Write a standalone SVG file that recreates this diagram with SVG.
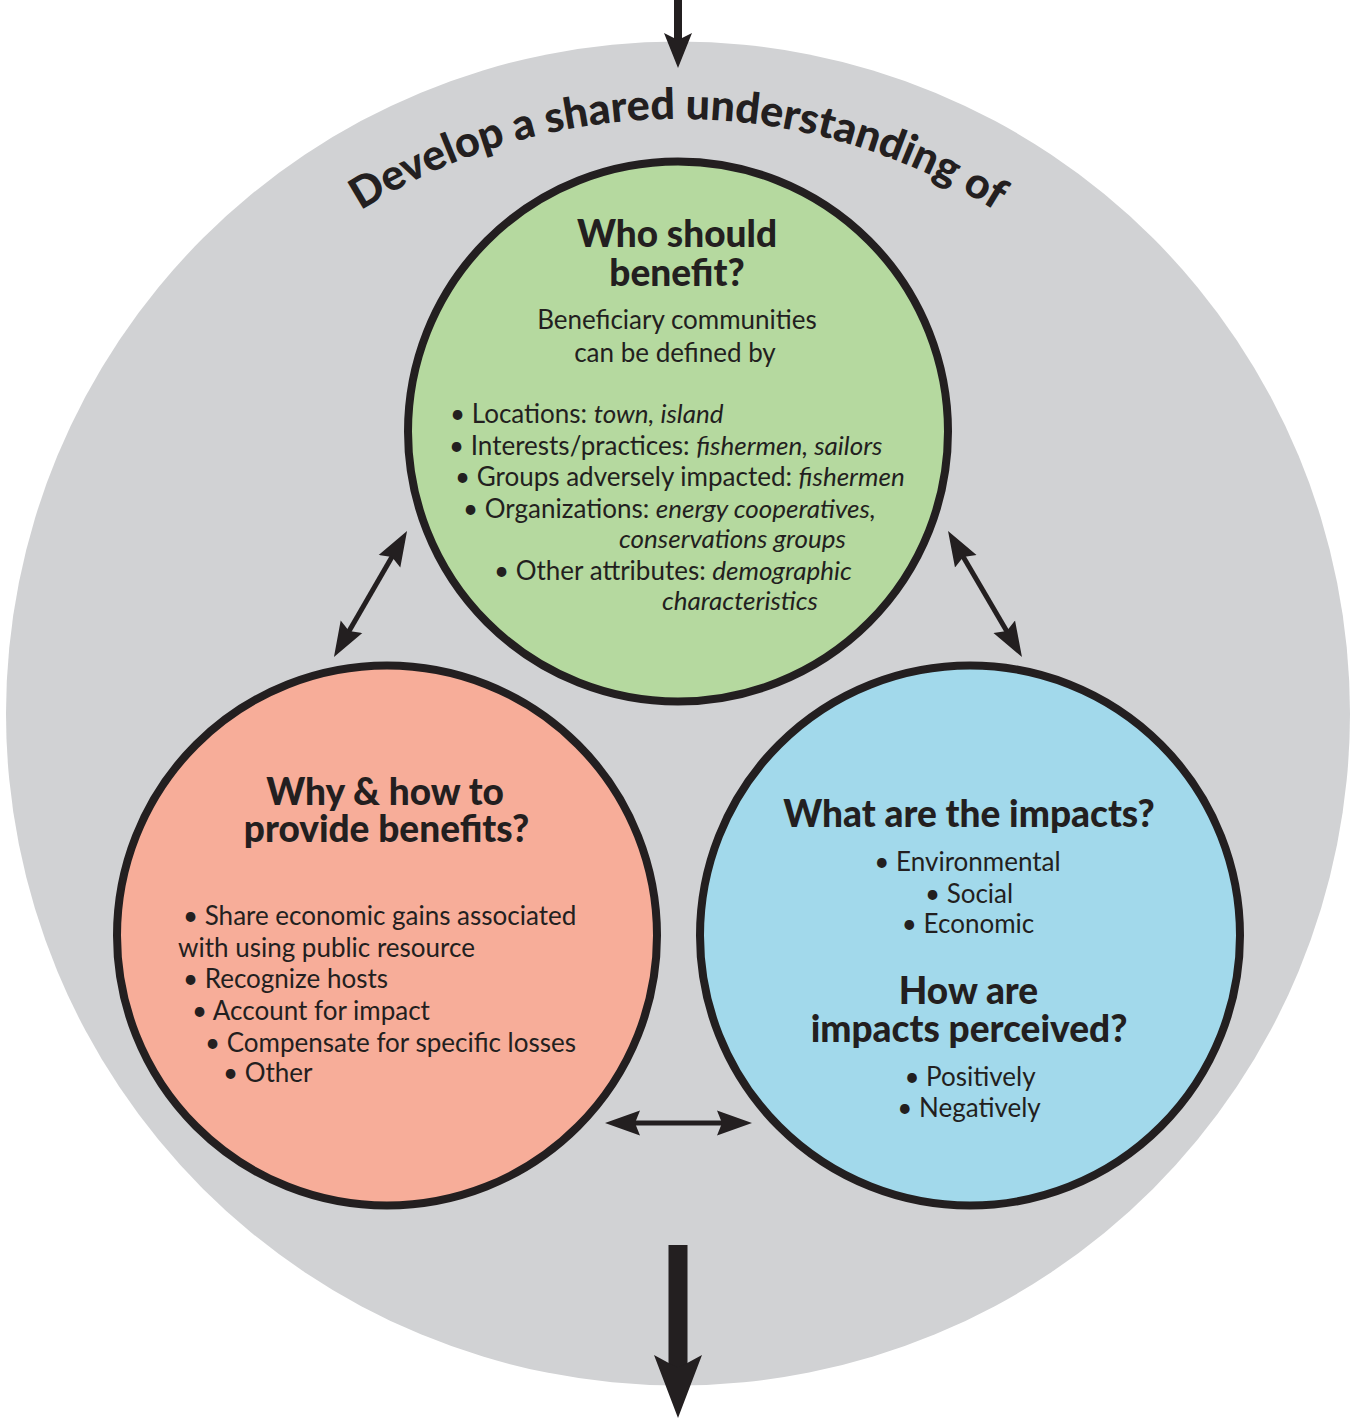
<svg xmlns="http://www.w3.org/2000/svg" width="1355" height="1420" viewBox="0 0 1355 1420">
<defs>
<style>
.title{font-family:"Lato Black",Lato,"Noto Sans",sans-serif;font-weight:900;font-size:37px;fill:#231f20;text-anchor:middle}
.body{font-family:Lato,"Noto Sans",sans-serif;font-weight:400;font-size:26px;fill:#231f20}
.mid{text-anchor:middle}
.it{font-style:italic}
.arc{font-family:"Lato Black",Lato,"Noto Sans",sans-serif;font-weight:900;font-size:43px;fill:#231f20}
.node{stroke:#231f20;stroke-width:8}
.conn{stroke:#231f20;stroke-width:5;fill:none}
</style>
<marker id="ah" viewBox="0 -13 36 26" refX="10" refY="0" markerWidth="36" markerHeight="26" markerUnits="userSpaceOnUse" orient="auto-start-reverse">
<path d="M35,0 L0,-12.5 L5,0 L0,12.5 Z" fill="#231f20"/>
</marker>
<path id="arcPath" d="M162.7,416.5 A595,595 0 0 1 1193.3,416.5"/>
</defs>
<rect width="1355" height="1420" fill="#ffffff"/>
<g id="outer">
<circle cx="678" cy="713.5" r="672" fill="#d1d2d4"/>
<text class="arc"><textPath href="#arcPath" startOffset="50%" text-anchor="middle">Develop a shared understanding of</textPath></text>
</g>
<g id="connectors">
<rect x="674" y="0" width="8" height="40" fill="#231f20"/>
<polygon points="664,33 678,40 692,33 678,68" fill="#231f20"/>
<rect x="668.5" y="1245" width="19" height="124" fill="#231f20"/>
<polygon points="654,1355 678,1368 702,1355 678,1418" fill="#231f20"/>
<line class="conn" x1="346.5" y1="635.4" x2="394.5" y2="552.6" marker-start="url(#ah)" marker-end="url(#ah)"/>
<line class="conn" x1="960.7" y1="552.6" x2="1009.3" y2="635.4" marker-start="url(#ah)" marker-end="url(#ah)"/>
<line class="conn" x1="630" y1="1123" x2="727" y2="1123" marker-start="url(#ah)" marker-end="url(#ah)"/>
</g>
<g id="who">
<circle class="node" cx="678" cy="431.5" r="270" fill="#b5d99f"/>
<text class="title" x="677" y="247">Who should</text>
<text class="title" x="677" y="286">benefit?</text>
<text class="body mid" x="677" y="329">Beneficiary communities</text>
<text class="body mid" x="675" y="362">can be defined by</text>
<text class="body" x="450" y="423">• Locations: <tspan class="it">town, island</tspan></text>
<text class="body" x="449" y="455">• Interests/practices: <tspan class="it">fishermen, sailors</tspan></text>
<text class="body" x="455" y="486">• Groups adversely impacted: <tspan class="it">fishermen</tspan></text>
<text class="body" x="463" y="518">• Organizations: <tspan class="it">energy cooperatives,</tspan></text>
<text class="body it" x="619" y="548">conservations groups</text>
<text class="body" x="494" y="580">• Other attributes: <tspan class="it">demographic</tspan></text>
<text class="body it" x="662" y="610">characteristics</text>
</g>
<g id="why">
<circle class="node" cx="387" cy="935.5" r="270" fill="#f7ad99"/>
<text class="title" x="385" y="805">Why &amp; how to</text>
<text class="title" x="386.5" y="842">provide benefits?</text>
<text class="body" x="183" y="925">• Share economic gains associated</text>
<text class="body" x="178" y="957">with using public resource</text>
<text class="body" x="183" y="988">• Recognize hosts</text>
<text class="body" x="192" y="1020">• Account for impact</text>
<text class="body" x="205" y="1052">• Compensate for specific losses</text>
<text class="body" x="223" y="1082">• Other</text>
</g>
<g id="impacts">
<circle class="node" cx="970" cy="935.5" r="270" fill="#a2d9eb"/>
<text class="title" x="969" y="827">What are the impacts?</text>
<text class="body mid" x="967.5" y="871">• Environmental</text>
<text class="body mid" x="969" y="903">• Social</text>
<text class="body mid" x="968" y="933">• Economic</text>
<text class="title" x="968.5" y="1004">How are</text>
<text class="title" x="969" y="1042">impacts perceived?</text>
<text class="body mid" x="970" y="1086">• Positively</text>
<text class="body mid" x="969" y="1117">• Negatively</text>
</g>
</svg>
